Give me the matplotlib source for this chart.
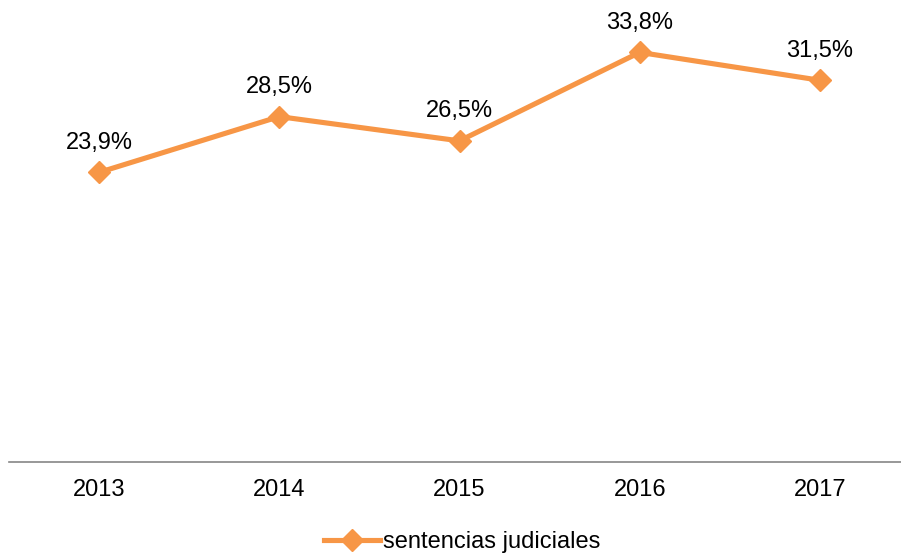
import matplotlib.pyplot as plt

# data
years = ['2013', '2014', '2015', '2016', '2017']
pct = [23.9, 28.5, 26.5, 33.8, 31.5]
labels = ['23,9%', '28,5%', '26,5%', '33,8%', '31,5%']

plt.rcParams['font.family'] = ['Liberation Sans', 'DejaVu Sans']

fig = plt.figure(figsize=(9.01, 5.54), dpi=100)
ax = fig.add_axes([9/901, 0.166, 1.0, 0.7657])

x = list(range(len(years)))
line, = ax.plot(x, pct, color='#F79646', lw=3.7, marker='D', ms=11,
                label='sentencias judiciales')

for xi, yi, lab in zip(x, pct, labels):
    ax.annotate(lab, (xi, yi), xytext=(0, 17), textcoords='offset points',
                ha='center', va='baseline', fontsize=17, color='#000000')

ax.set_xlim(-0.5, len(years) - 0.5)
ax.set_ylim(0, 35)
ax.set_xticks(x)
ax.set_xticklabels(years, fontsize=17)
ax.tick_params(axis='x', length=0, pad=12)
ax.set_yticks([])
for s in ['top', 'left', 'right']:
    ax.spines[s].set_visible(False)
ax.spines['bottom'].set_color('#868686')
ax.spines['bottom'].set_linewidth(1.2)

fig.legend(handles=[line], loc='center', bbox_to_anchor=(462/901, 1 - 542/554),
           frameon=False, fontsize=17, handlelength=2.4, handletextpad=0.1,
           borderpad=0)

fig.savefig('out.png', dpi=100)
